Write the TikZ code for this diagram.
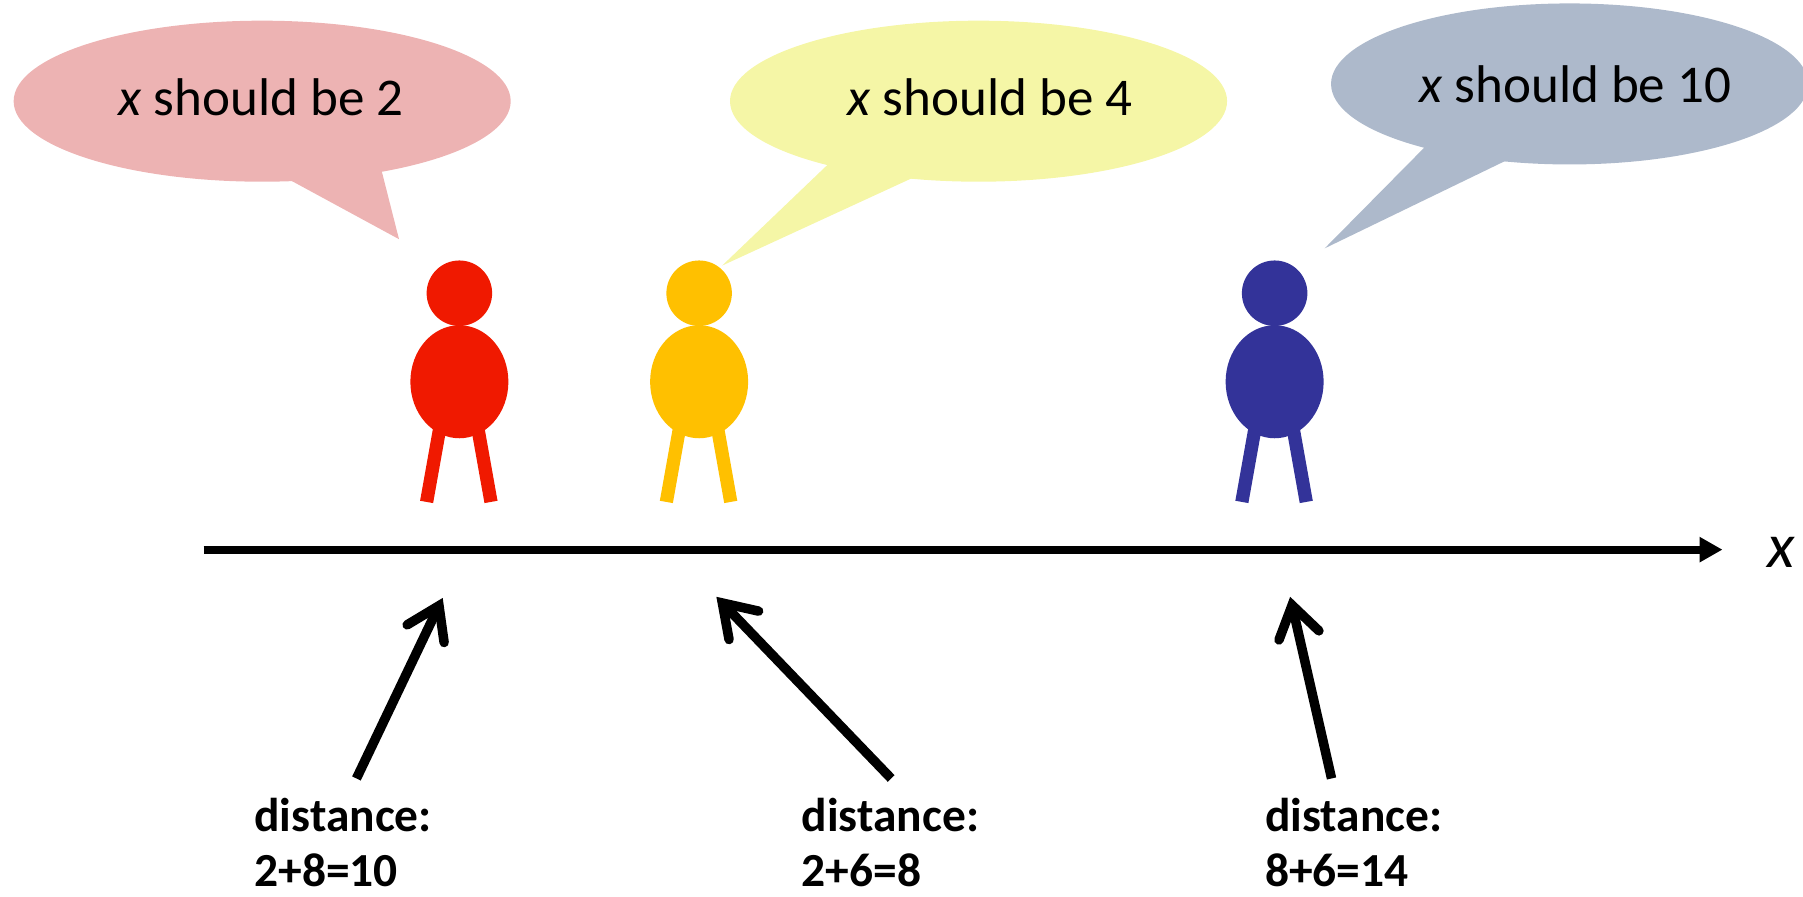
\documentclass[tikz,border=0pt]{standalone}
\usepackage{fontspec}
\setmainfont{Carlito}
\usepackage{xcolor}
\usetikzlibrary{shapes.geometric, arrows.meta, positioning}

\definecolor{redguy}{HTML}{F01900}
\definecolor{yellowguy}{HTML}{FFC000}
\definecolor{blueguy}{HTML}{333399}
\definecolor{redcloud}{HTML}{EDB3B3}
\definecolor{yellowcloud}{HTML}{F5F6A6}
\definecolor{bluecloud}{HTML}{ADB9CB}

\begin{document}
\begin{tikzpicture}[x=0.023cm, y=-0.023cm,
    bubble/.style={ellipse, inner sep=0pt, minimum width=9.94cm, minimum height=3.22cm},
    say/.style={font=\fontsize{30.2}{34}\selectfont},
    head/.style={circle, inner sep=0pt, minimum size=1.31cm},
    body/.style={ellipse, inner sep=0pt, minimum width=1.96cm, minimum height=2.26cm},
    leg/.style={line width=0.265cm},
    axis/.style={line width=0.16cm, -{Triangle[length=0.46cm, width=0.48cm]}},
    pointer/.style={line width=0.19cm, -{Straight Barb[length=0.62cm, width=0.82cm, line join=miter, line cap=round]}},
    dist/.style={align=left, anchor=north west, inner sep=0pt, font=\fontsize{27}{31.5}\selectfont\bfseries}
]
\useasboundingbox (0,0) rectangle (1568,780);

% speech bubbles, tails first
\fill[redcloud] (253,150) -- (253,157) -- (347,208) -- (332,149) -- cycle;
\node (cloudA) [bubble, fill=redcloud] at (228,88) {};
\fill[yellowcloud] (720,143) -- (628,231) -- (793,155) -- (770,130) -- cycle;
\node (cloudB) [bubble, fill=yellowcloud] at (851,88) {};
\fill[bluecloud] (1239,128) -- (1152,216) -- (1309,140) -- (1290,110) -- cycle;
\node (cloudC) [bubble, fill=bluecloud, minimum width=9.54cm] at (1365,73) {};

\node (sayA) [say] at (227,85) {\textit{x} should be 2};
\node (sayB) [say] at (861,85) {\textit{x} should be 4};
\node (sayC) [say] at (1370,73) {\textit{x} should be 10};

% the three people
\foreach \who/\xpos/\col in {A/399.5/redguy, B/608/yellowguy, C/1108.5/blueguy} {
    \draw[leg, \col] (\xpos-17,372) -- (\xpos-28.5,436.5);
    \draw[leg, \col] (\xpos+16,372) -- (\xpos+27.5,436.5);
    \node (head\who) [head, fill=\col] at (\xpos,255) {};
    \node (body\who) [body, fill=\col] at (\xpos,332) {};
}

% x axis
\coordinate (axisL) at (177,478);
\coordinate (axisR) at (1498,478);
\draw[axis] (axisL) -- (axisR);
\node (xlabel) [font=\fontsize{36}{40}\selectfont\itshape] at (1549,480) {x};

% distance labels and their arrows
\node (distA) [dist] at (221,693.5) {distance:\\2+8=10};
\node (distB) [dist] at (697,693.5) {distance:\\2+6=8};
\node (distC) [dist] at (1100,693.5) {distance:\\8+6=14};

\coordinate (fromA) at (310,677);
\coordinate (toA) at (385,520);
\coordinate (fromB) at (775,677);
\coordinate (toB) at (623,519);
\coordinate (fromC) at (1158,677);
\coordinate (toC) at (1122,519);

\draw[pointer] (fromA) -- (toA);
\draw[pointer] (fromB) -- (toB);
\draw[pointer] (fromC) -- (toC);
\end{tikzpicture}
\end{document}
